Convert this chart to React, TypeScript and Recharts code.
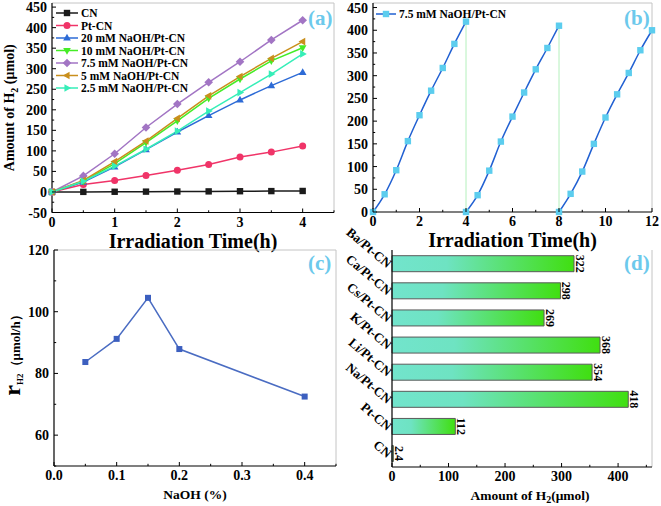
import React from "react";
import {
  Bar,
  BarChart,
  Label,
  LabelList,
  Legend,
  Line,
  LineChart,
  ReferenceLine,
  XAxis,
  YAxis,
} from "recharts";

const FONT = '"Liberation Serif", "Times New Roman", "DejaVu Serif", serif';
const TAG_COLOR = "#6cc9ec";
const FRAME = "#c4c4c4";

// ---- (a) H2 evolution vs time ----
const timeA = [0, 0.5, 1, 1.5, 2, 2.5, 3, 3.5, 4];
const cnA = [0, 0.2, 0.5, 0.8, 1.1, 1.4, 1.8, 2.1, 2.4];
const ptcnA = [0, 18, 28, 40, 53, 67, 85, 97, 112];
const naoh20 = [0, 24, 61, 103, 146, 186, 224, 259, 291];
const naoh10 = [0, 26, 69, 120, 173, 228, 275, 319, 351];
const naoh75 = [0, 39, 93, 157, 214, 267, 317, 370, 418];
const naoh5 = [0, 28, 74, 124, 179, 234, 281, 325, 366];
const naoh25 = [0, 26, 63, 104, 148, 197, 242, 287, 336];
const aXTicks = [0, 0.5, 1, 1.5, 2, 2.5, 3, 3.5, 4, 4.5];
const aXMajor = [0, 1, 2, 3, 4];
const aYTicks = [-50, -25, 0, 25, 50, 75, 100, 125, 150, 175, 200, 225, 250, 275, 300, 325, 350, 375, 400, 425, 450];
const aYMajor = [-50, 0, 50, 100, 150, 200, 250, 300, 350, 400, 450];

// ---- (b) cycling test ----
const cycle1T = [0, 0.5, 1, 1.5, 2, 2.5, 3, 3.5, 4];
const cycle1V = [0, 39, 92, 156, 213, 267, 317, 370, 419];
const cycle2T = [4, 4.5, 5, 5.5, 6, 6.5, 7, 7.5, 8];
const cycle2V = [0, 37, 91, 155, 210, 263, 314, 361, 410];
const cycle3T = [8, 8.5, 9, 9.5, 10, 10.5, 11, 11.5, 12];
const cycle3V = [0, 40, 89, 150, 208, 259, 306, 356, 400];
const bXTicks = [0, 1, 2, 3, 4, 5, 6, 7, 8, 9, 10, 11, 12];
const bXMajor = [0, 2, 4, 6, 8, 10, 12];
const bYTicks = aYTicks.filter((v) => v >= 0);
const bYMajor = aYMajor.filter((v) => v >= 0);

// ---- (c) rate vs NaOH ----
const naohPct = [0.05, 0.1, 0.15, 0.2, 0.4];
const rateH2 = [83.7, 91.2, 104.5, 87.9, 72.5];
const cXTicks = [0, 0.05, 0.1, 0.15, 0.2, 0.25, 0.3, 0.35, 0.4, 0.45];
const cXMajor = [0, 0.1, 0.2, 0.3, 0.4];
const cYTicks = [50, 60, 70, 80, 90, 100, 110, 120];
const cYMajor = [60, 80, 100, 120];

// ---- (d) different cations ----
const catalysts = ["Ba/Pt-CN", "Ca/Pt-CN", "Cs/Pt-CN", "K/Pt-CN", "Li/Pt-CN", "Na/Pt-CN", "Pt-CN", "CN"];
const amounts = [322, 298, 269, 368, 354, 418, 112, 2.4];
const dXTicks = [0, 50, 100, 150, 200, 250, 300, 350, 400, 450];
const dXMajor = [0, 100, 200, 300, 400];

type Shape = "square" | "circle" | "up" | "down" | "diamond" | "left" | "right";

const seriesA: { key: string; name: string; color: string; shape: Shape; values: number[] }[] = [
  { key: "cn", name: "CN", color: "#1b1b1b", shape: "square", values: cnA },
  { key: "pt", name: "Pt-CN", color: "#f03468", shape: "circle", values: ptcnA },
  { key: "n20", name: "20 mM NaOH/Pt-CN", color: "#2d6bd6", shape: "up", values: naoh20 },
  { key: "n10", name: "10 mM NaOH/Pt-CN", color: "#45ec26", shape: "down", values: naoh10 },
  { key: "n75", name: "7.5 mM NaOH/Pt-CN", color: "#a275c4", shape: "diamond", values: naoh75 },
  { key: "n5", name: "5 mM NaOH/Pt-CN", color: "#c98f1c", shape: "left", values: naoh5 },
  { key: "n25", name: "2.5 mM NaOH/Pt-CN", color: "#36eeb8", shape: "right", values: naoh25 },
];

const rowsA = timeA.map((t, i) => {
  const row: Record<string, number> = { t };
  seriesA.forEach((s) => (row[s.key] = s.values[i]));
  return row;
});
const toRows = (ts: number[], vs: number[]) => ts.map((t, i) => ({ t, v: vs[i] }));
const rowsB1 = toRows(cycle1T, cycle1V);
const rowsB2 = toRows(cycle2T, cycle2V);
const rowsB3 = toRows(cycle3T, cycle3V);
const joinB1 = [
  { t: 4, v: cycle1V[cycle1V.length - 1] },
  { t: 4, v: cycle2V[0] },
];
const joinB2 = [
  { t: 8, v: cycle2V[cycle2V.length - 1] },
  { t: 8, v: cycle3V[0] },
];
const rowsC = naohPct.map((x, i) => ({ x, r: rateH2[i] }));
const rowsD = catalysts.map((name, i) => ({ name, amount: amounts[i] }));

function Marker({ cx, cy, shape, color, s = 3.2 }: { cx?: number; cy?: number; shape: Shape; color: string; s?: number }) {
  if (cx == null || cy == null || Number.isNaN(cx) || Number.isNaN(cy)) return null;
  switch (shape) {
    case "square":
      return <rect x={cx - s} y={cy - s} width={2 * s} height={2 * s} fill={color} />;
    case "circle":
      return <circle cx={cx} cy={cy} r={s + 0.3} fill={color} />;
    case "up":
      return <polygon points={`${cx},${cy - s * 1.3} ${cx + s * 1.2},${cy + s * 0.8} ${cx - s * 1.2},${cy + s * 0.8}`} fill={color} />;
    case "down":
      return <polygon points={`${cx},${cy + s * 1.3} ${cx + s * 1.2},${cy - s * 0.8} ${cx - s * 1.2},${cy - s * 0.8}`} fill={color} />;
    case "left":
      return <polygon points={`${cx - s * 1.3},${cy} ${cx + s * 0.8},${cy - s * 1.2} ${cx + s * 0.8},${cy + s * 1.2}`} fill={color} />;
    case "right":
      return <polygon points={`${cx + s * 1.3},${cy} ${cx - s * 0.8},${cy - s * 1.2} ${cx - s * 0.8},${cy + s * 1.2}`} fill={color} />;
    case "diamond":
      return <polygon points={`${cx},${cy - s * 1.35} ${cx + s * 1.35},${cy} ${cx},${cy + s * 1.35} ${cx - s * 1.35},${cy}`} fill={color} />;
  }
  return null;
}

const near = (list: number[], v: number) => list.some((m) => Math.abs(m - v) < 1e-6);

// ticks drawn by hand so they can point inwards, with short minor ticks
function leftTick(majors: number[], fmt: (v: number) => string) {
  return (props: any) => {
    const { x, y, payload } = props;
    const v = Number(payload.value);
    const major = near(majors, v);
    return (
      <g>
        <line x1={x} y1={y} x2={x + (major ? 4 : 2.2)} y2={y} stroke="#000" />
        {major && (
          <text x={x - 5} y={y} dy="0.36em" textAnchor="end" fontFamily={FONT} fontWeight="bold" fontSize={14} fill="#000">
            {fmt(v)}
          </text>
        )}
      </g>
    );
  };
}

function bottomTick(majors: number[], fmt: (v: number) => string) {
  return (props: any) => {
    const { x, y, payload } = props;
    const v = Number(payload.value);
    const major = near(majors, v);
    return (
      <g>
        <line x1={x} y1={y} x2={x} y2={y - (major ? 4 : 2.2)} stroke="#000" />
        {major && (
          <text x={x} y={y + 14} textAnchor="middle" fontFamily={FONT} fontWeight="bold" fontSize={14} fill="#000">
            {fmt(v)}
          </text>
        )}
      </g>
    );
  };
}

const catTick = (props: any) => {
  const { x, y, payload } = props;
  const ax = x - 5;
  const ay = y + 5;
  return (
    <text
      x={ax}
      y={ay}
      transform={`rotate(40 ${ax} ${ay})`}
      textAnchor="end"
      fontFamily={FONT}
      fontWeight="bold"
      fontSize={13}
      fill="#000"
    >
      {payload.value}
    </text>
  );
};

const int = (v: number) => String(Math.round(v));
const oneDec = (v: number) => v.toFixed(1);

const timeTitle = (dy: number) => (props: any) => {
  const vb = props.viewBox;
  return (
    <text x={vb.x + vb.width / 2} y={vb.y + dy} textAnchor="middle" fontFamily={FONT} fontWeight="bold" fontSize={20} fill="#000">
      Irradiation Time(h)
    </text>
  );
};

const amountTitle = (props: any) => {
  const vb = props.viewBox;
  const cx = 14;
  const cy = vb.y + vb.height / 2;
  return (
    <text transform={`translate(${cx} ${cy}) rotate(-90)`} textAnchor="middle" fontFamily={FONT} fontWeight="bold" fontSize={14} fill="#000">
      Amount of H<tspan dy={4} fontSize={10}>2</tspan>
      <tspan dy={-4}> (μmol)</tspan>
    </text>
  );
};

const rateTitle = (props: any) => {
  const vb = props.viewBox;
  const cx = 20;
  const cy = vb.y + vb.height / 2 - 6;
  return (
    <text transform={`translate(${cx} ${cy}) rotate(-90)`} textAnchor="middle" fontFamily={FONT} fontWeight="bold" fill="#000">
      <tspan fontSize={24}>r</tspan>
      <tspan fontSize={9} dy={3}>H2</tspan>
      <tspan fontSize={13} dy={-3}>（μmol/h）</tspan>
    </text>
  );
};

const smallTitle = (text: React.ReactNode, dx: number, dy: number) => (props: any) => {
  const vb = props.viewBox;
  return (
    <text x={vb.x + vb.width / 2 + dx} y={vb.y + dy} textAnchor="middle" fontFamily={FONT} fontWeight="bold" fontSize={13.5} fill="#000">
      {text}
    </text>
  );
};

const barValue = (props: any) => {
  const { x, y, width, height, value } = props;
  const px = Number(x) + Number(width) + 2;
  const py = Number(y) + Number(height) / 2;
  const txt = Number(value) < 10 ? Number(value).toFixed(1) : String(value);
  return (
    <text x={px} y={py} transform={`rotate(90 ${px} ${py})`} textAnchor="middle" fontFamily={FONT} fontWeight="bold" fontSize={12} fill="#000">
      {txt}
    </text>
  );
};

function LegendA() {
  return (
    <svg width={200} height={92} style={{ display: "block" }}>
      {seriesA.map((s, i) => {
        const y = 7 + i * 12.5;
        return (
          <g key={s.key}>
            <line x1={1} x2={23} y1={y} y2={y} stroke={s.color} strokeWidth={1.5} />
            <Marker cx={12} cy={y} shape={s.shape} color={s.color} />
            <text x={26} y={y} dy="0.36em" fontFamily={FONT} fontWeight="bold" fontSize={11.5} fill="#000">
              {s.name}
            </text>
          </g>
        );
      })}
    </svg>
  );
}

function LegendB() {
  return (
    <svg width={160} height={16} style={{ display: "block" }}>
      <line x1={1} x2={21} y1={7} y2={7} stroke="#2160d2" strokeWidth={1.5} />
      <Marker cx={11} cy={7} shape="square" color="#5ccdee" />
      <text x={24} y={7} dy="0.36em" fontFamily={FONT} fontWeight="bold" fontSize={11.5} fill="#000">
        7.5 mM NaOH/Pt-CN
      </text>
    </svg>
  );
}

const tagStyle = (left: number, top: number): React.CSSProperties => ({
  position: "absolute",
  left,
  top,
  fontFamily: FONT,
  fontWeight: "bold",
  fontSize: 21,
  color: TAG_COLOR,
  lineHeight: 1,
});

export default function App() {
  return (
    <div style={{ position: "absolute", left: 0, top: 0, width: 661, height: 506, background: "#fff", overflow: "hidden" }}>
      {/* (a) */}
      <div style={{ position: "absolute", left: 0, top: 0 }}>
        <LineChart width={340} height={253} data={rowsA} margin={{ top: 3, right: 6, left: 0, bottom: 0 }}>
          <XAxis
            type="number"
            dataKey="t"
            domain={[0, 4.5]}
            ticks={aXTicks}
            interval={0}
            tickSize={0}
            tickMargin={0}
            tickLine={false}
            tick={bottomTick(aXMajor, int)}
            axisLine={{ stroke: "#000", strokeWidth: 1.2 }}
            height={40.5}
          >
            <Label content={timeTitle(35)} />
          </XAxis>
          <YAxis
            type="number"
            domain={[-50, 460]}
            ticks={aYTicks}
            interval={0}
            tickSize={0}
            tickMargin={0}
            tickLine={false}
            tick={leftTick(aYMajor, int)}
            axisLine={{ stroke: "#000", strokeWidth: 1.2 }}
            width={52}
          >
            <Label content={amountTitle} />
          </YAxis>
          <ReferenceLine y={460} stroke={FRAME} />
          <ReferenceLine x={4.5} stroke={FRAME} />
          <Legend
            layout="vertical"
            align="center"
            verticalAlign="middle"
            width={200}
            wrapperStyle={{ left: 55, top: 6 }}
            content={() => <LegendA />}
          />
          {seriesA.map((s) => (
            <Line
              key={s.key}
              dataKey={s.key}
              name={s.name}
              type="linear"
              stroke={s.color}
              strokeWidth={1.5}
              isAnimationActive={false}
              activeDot={false}
              dot={(p: any) => <Marker key={`${s.key}-${p.index}`} cx={p.cx} cy={p.cy} shape={s.shape} color={s.color} />}
            />
          ))}
        </LineChart>
      </div>

      {/* (d) drawn before (b) so (b)'s title stays on top */}
      <div style={{ position: "absolute", left: 330, top: 212 }}>
        <BarChart
          width={331}
          height={294}
          data={rowsD}
          layout="vertical"
          margin={{ top: 38, right: 9, left: 0, bottom: 0 }}
          barCategoryGap="21%"
        >
          <defs>
            <linearGradient id="barFill" x1="0" y1="0" x2="1" y2="0">
              <stop offset="0%" stopColor="#72e4cc" />
              <stop offset="30%" stopColor="#6ee3c2" />
              <stop offset="100%" stopColor="#40df10" />
            </linearGradient>
          </defs>
          <XAxis
            type="number"
            dataKey="amount"
            domain={[0, 460]}
            ticks={dXTicks}
            interval={0}
            tickSize={0}
            tickMargin={0}
            tickLine={false}
            tick={bottomTick(dXMajor, int)}
            axisLine={{ stroke: "#000", strokeWidth: 1.2 }}
            height={39}
          >
            <Label content={smallTitle(<>Amount of H<tspan dy={3} fontSize={10}>2</tspan><tspan dy={-3}>(μmol)</tspan></>, 8, 33)} />
          </XAxis>
          <XAxis xAxisId="frame" orientation="top" type="number" domain={[0, 460]} height={0} tick={false} tickLine={false} axisLine={{ stroke: FRAME }} />
          <YAxis
            type="category"
            dataKey="name"
            interval={0}
            tickSize={0}
            tickMargin={0}
            tickLine={false}
            tick={catTick}
            axisLine={{ stroke: "#000", strokeWidth: 1.2 }}
            width={62}
          />
          <ReferenceLine x={460} stroke={FRAME} />
          <Bar dataKey="amount" fill="url(#barFill)" stroke="#5a5a5a" strokeWidth={1} isAnimationActive={false}>
            <LabelList dataKey="amount" content={barValue} />
          </Bar>
        </BarChart>
      </div>

      {/* (b) */}
      <div style={{ position: "absolute", left: 330, top: 0 }}>
        <LineChart width={331} height={253} margin={{ top: 3, right: 9, left: 0, bottom: 0 }}>
          <XAxis
            type="number"
            dataKey="t"
            domain={[0, 12]}
            ticks={bXTicks}
            interval={0}
            tickSize={0}
            tickMargin={0}
            tickLine={false}
            tick={bottomTick(bXMajor, int)}
            axisLine={{ stroke: "#000", strokeWidth: 1.2 }}
            height={41}
            allowDuplicatedCategory={false}
          >
            <Label content={timeTitle(35)} />
          </XAxis>
          <YAxis
            type="number"
            dataKey="v"
            domain={[0, 460]}
            ticks={bYTicks}
            interval={0}
            tickSize={0}
            tickMargin={0}
            tickLine={false}
            tick={leftTick(bYMajor, int)}
            axisLine={{ stroke: "#000", strokeWidth: 1.2 }}
            width={43}
          />
          <ReferenceLine y={460} stroke={FRAME} />
          <ReferenceLine x={12} stroke={FRAME} />
          <Legend
            layout="vertical"
            align="center"
            verticalAlign="middle"
            width={160}
            wrapperStyle={{ left: 45, top: 7 }}
            content={() => <LegendB />}
          />
          <Line data={joinB1} dataKey="v" stroke="#b4f0bc" strokeWidth={1} dot={false} activeDot={false} isAnimationActive={false} legendType="none" />
          <Line data={joinB2} dataKey="v" stroke="#b4f0bc" strokeWidth={1} dot={false} activeDot={false} isAnimationActive={false} legendType="none" />
          {[rowsB1, rowsB2, rowsB3].map((rows, k) => (
            <Line
              key={k}
              data={rows}
              dataKey="v"
              type="monotone"
              stroke="#2160d2"
              strokeWidth={1.5}
              isAnimationActive={false}
              activeDot={false}
              dot={(p: any) => <Marker key={`b${k}-${p.index}`} cx={p.cx} cy={p.cy} shape="square" color="#5ccdee" />}
            />
          ))}
        </LineChart>
      </div>

      {/* (c) */}
      <div style={{ position: "absolute", left: 0, top: 238 }}>
        <LineChart width={340} height={268} data={rowsC} margin={{ top: 12, right: 4, left: 0, bottom: 0 }}>
          <XAxis
            type="number"
            dataKey="x"
            domain={[0, 0.45]}
            ticks={cXTicks}
            interval={0}
            tickSize={0}
            tickMargin={0}
            tickLine={false}
            tick={bottomTick(cXMajor, oneDec)}
            axisLine={{ stroke: "#000", strokeWidth: 1.2 }}
            height={40}
          >
            <Label content={smallTitle("NaOH (%)", 0, 33)} />
          </XAxis>
          <YAxis
            type="number"
            domain={[50, 120]}
            ticks={cYTicks}
            interval={0}
            tickSize={0}
            tickMargin={0}
            tickLine={false}
            tick={leftTick(cYMajor, int)}
            axisLine={{ stroke: "#000", strokeWidth: 1.2 }}
            width={54}
          >
            <Label content={rateTitle} />
          </YAxis>
          <ReferenceLine y={120} stroke={FRAME} />
          <ReferenceLine x={0.45} stroke={FRAME} />
          <Line
            dataKey="r"
            type="linear"
            stroke="#4a6cc2"
            strokeWidth={1.5}
            isAnimationActive={false}
            activeDot={false}
            dot={(p: any) => <Marker key={`c-${p.index}`} cx={p.cx} cy={p.cy} shape="square" color="#3c5fbf" s={3} />}
          />
        </LineChart>
      </div>

      <div style={tagStyle(308, 8)}>(a)</div>
      <div style={tagStyle(624, 8)}>(b)</div>
      <div style={tagStyle(308, 253)}>(c)</div>
      <div style={tagStyle(624, 253)}>(d)</div>
    </div>
  );
}
